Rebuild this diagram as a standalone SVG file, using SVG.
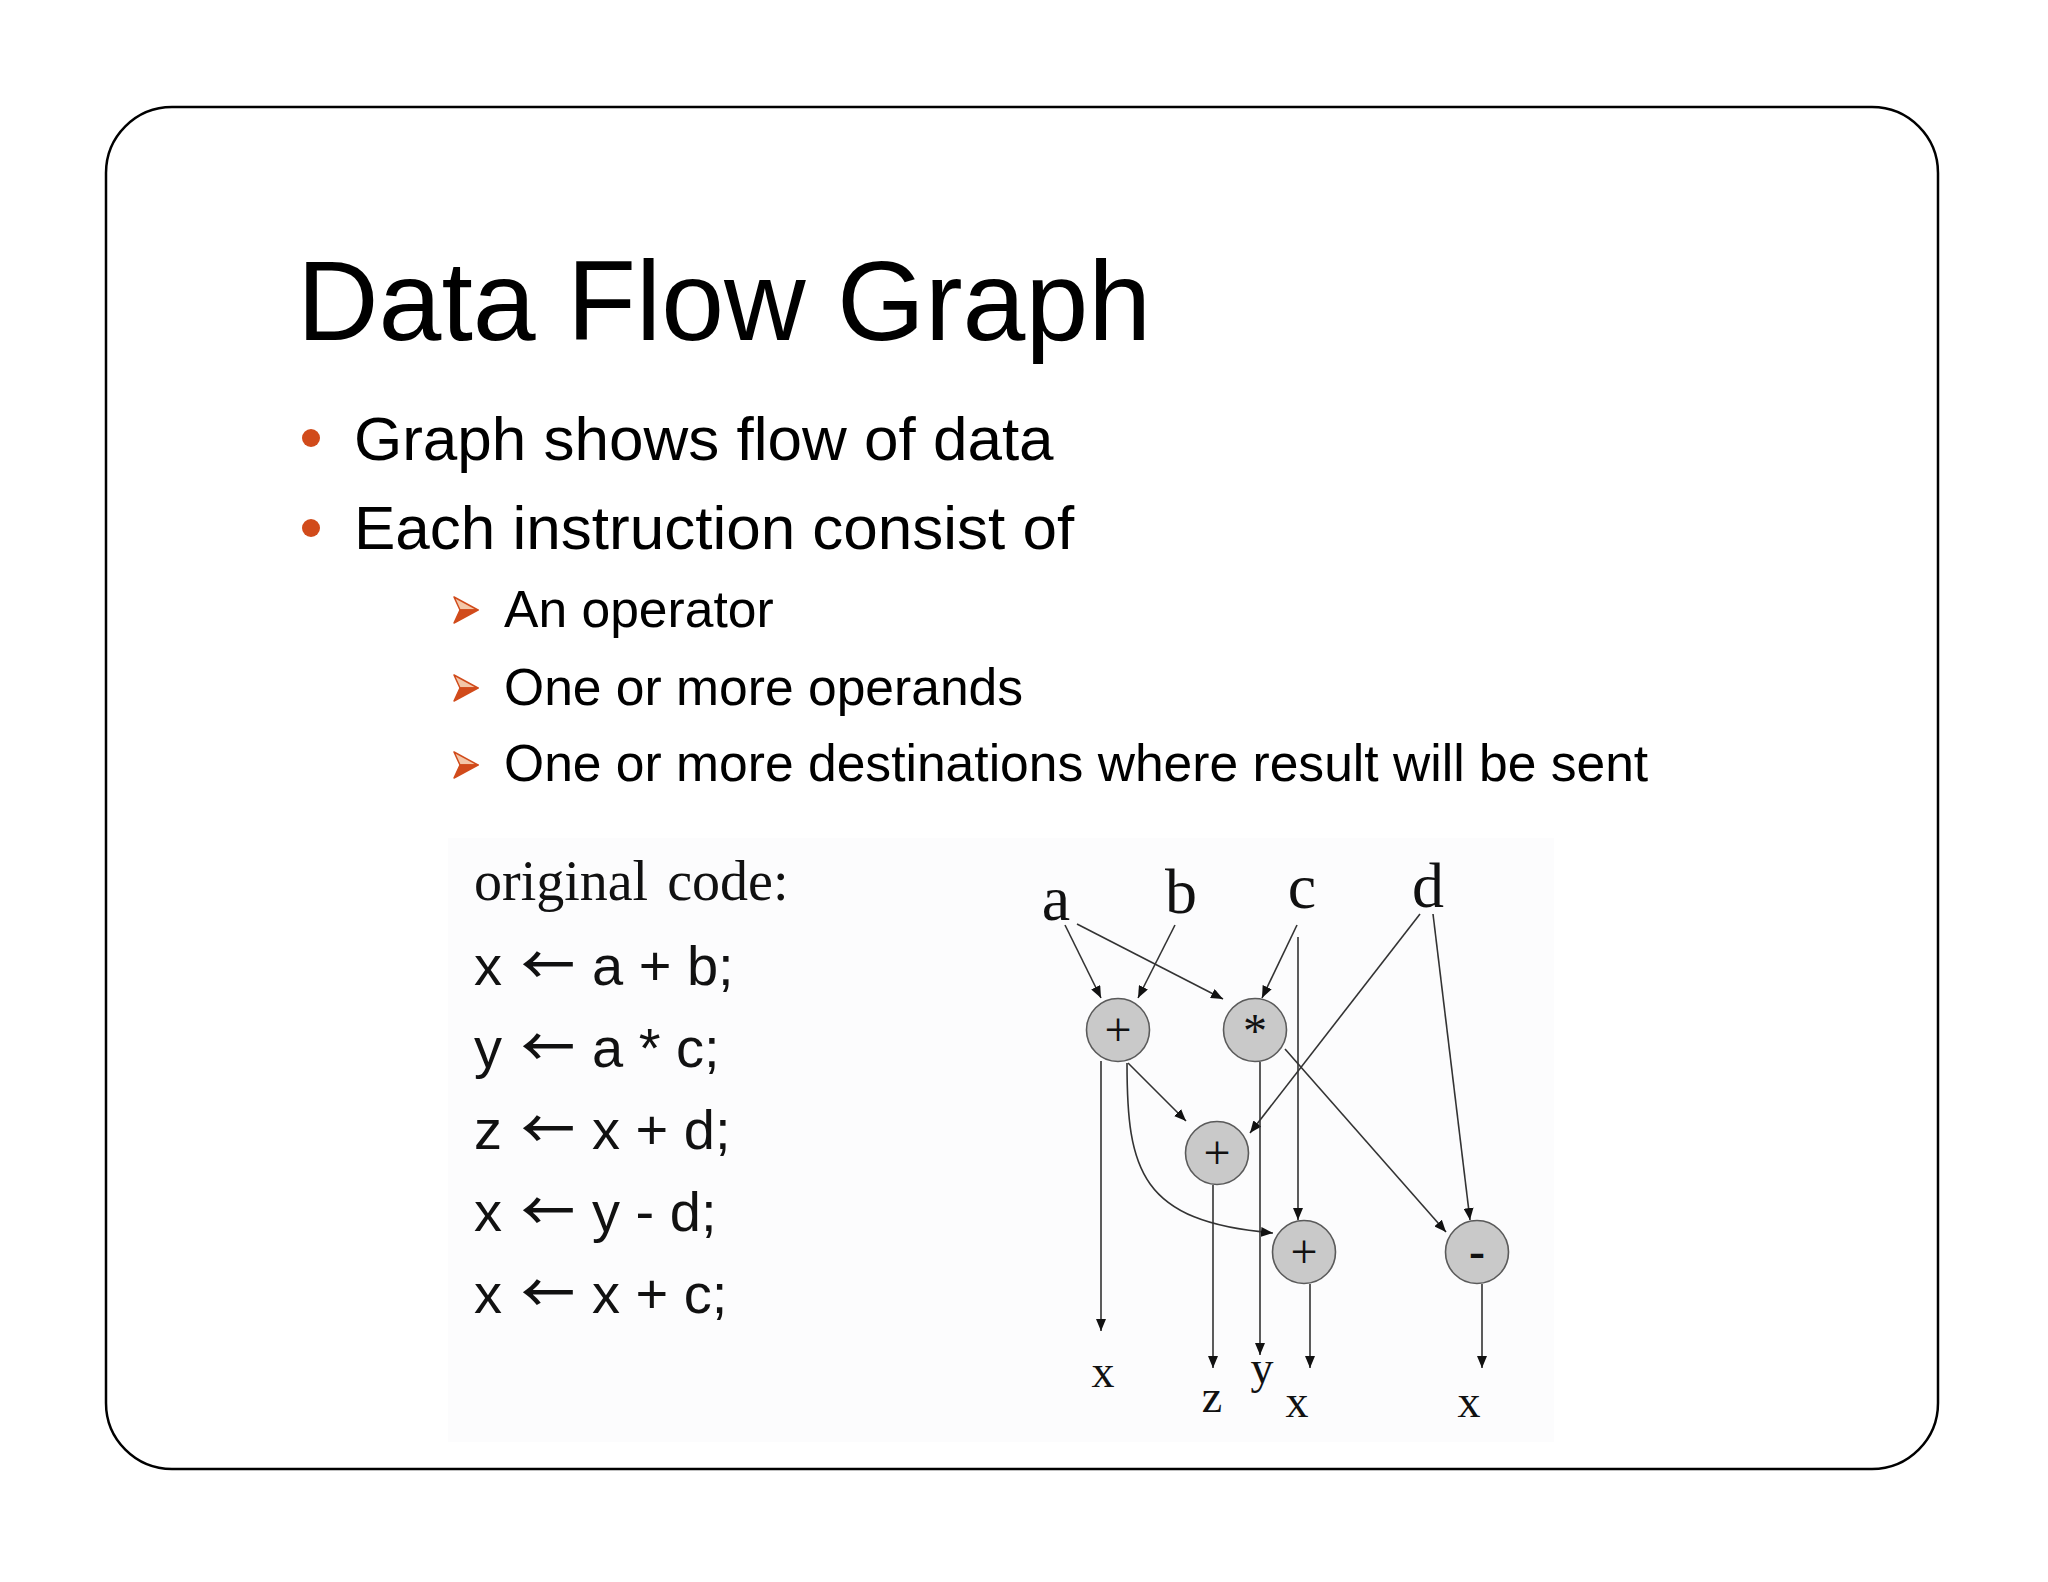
<svg xmlns="http://www.w3.org/2000/svg" width="2048" height="1582" viewBox="0 0 2048 1582">
<style>
.sans{font-family:"Liberation Sans",Arial,sans-serif;fill:#000}
.code{font-family:"Liberation Sans",Arial,sans-serif;fill:#111;font-size:56px}
.arr{font-family:"Noto Sans CJK SC","DejaVu Sans",sans-serif;font-size:54px;font-weight:500}
.serif{font-family:"Liberation Serif","Times New Roman",serif;fill:#111}
.edge{fill:none;stroke:#333;stroke-width:1.6}
.op{fill:#c9c9c9;stroke:#5a5a5a;stroke-width:1.6}
.dot{fill:#d14b1b}
</style>
<defs>
<marker id="ah" viewBox="0 0 12 10" refX="12" refY="5" markerWidth="12" markerHeight="10" markerUnits="userSpaceOnUse" orient="auto">
<path d="M0,0 L12,5 L0,10 Z" fill="#111"/>
</marker>
<g id="chev">
<path d="M0,0 L24,13 L6,13 Z" fill="#f3c7a8" stroke="#d14b1b" stroke-width="1.5" stroke-linejoin="round"/>
<path d="M6,13 L24,13 L0,26 Z" fill="#d14b1b" stroke="#d14b1b" stroke-width="1.5" stroke-linejoin="round"/>
</g>
</defs>
<rect width="2048" height="1582" fill="#fff"/>
<rect x="106" y="107" width="1832" height="1362" rx="66" ry="66" fill="#fff" stroke="#000" stroke-width="2.5"/>
<rect x="448" y="838" width="1106" height="604" fill="#fcfcfd"/>

<g id="title"><text class="sans" x="297" y="340" font-size="113">Data Flow Graph</text></g>
<g id="bullets">
<circle class="dot" cx="311" cy="438" r="9"/>
<text class="sans" x="354" y="460" font-size="62">Graph shows flow of data</text>
<circle class="dot" cx="311" cy="528" r="9"/>
<text class="sans" x="354" y="549" font-size="62">Each instruction consist of</text>
<use href="#chev" x="454" y="597"/>
<text class="sans" x="504" y="627" font-size="51.6">An operator</text>
<use href="#chev" x="454" y="675"/>
<text class="sans" x="504" y="705" font-size="51.6">One or more operands</text>
<use href="#chev" x="454" y="752"/>
<text class="sans" x="504" y="781" font-size="51.6">One or more destinations where result will be sent</text>
</g>

<g id="code">
<text class="serif" x="474" y="900" font-size="56" word-spacing="5">original code:</text>
<text class="code" y="985"><tspan x="474">x</tspan><tspan class="arr" x="521">←</tspan><tspan x="592">a + b;</tspan></text>
<text class="code" y="1067"><tspan x="474">y</tspan><tspan class="arr" x="521">←</tspan><tspan x="592">a * c;</tspan></text>
<text class="code" y="1149"><tspan x="474">z</tspan><tspan class="arr" x="521">←</tspan><tspan x="592">x + d;</tspan></text>
<text class="code" y="1231"><tspan x="474">x</tspan><tspan class="arr" x="521">←</tspan><tspan x="592">y - d;</tspan></text>
<text class="code" y="1313"><tspan x="474">x</tspan><tspan class="arr" x="521">←</tspan><tspan x="592">x + c;</tspan></text>
</g>

<g id="connectors">
<line class="edge" x1="1065" y1="925" x2="1101" y2="998" marker-end="url(#ah)"/>
<line class="edge" x1="1077" y1="924" x2="1223" y2="999" marker-end="url(#ah)"/>
<line class="edge" x1="1175" y1="925" x2="1138" y2="998" marker-end="url(#ah)"/>
<line class="edge" x1="1297" y1="925" x2="1262" y2="998" marker-end="url(#ah)"/>
<line class="edge" x1="1298" y1="937" x2="1298" y2="1220" marker-end="url(#ah)"/>
<line class="edge" x1="1420" y1="914" x2="1250" y2="1133" marker-end="url(#ah)"/>
<line class="edge" x1="1433" y1="914" x2="1470" y2="1220" marker-end="url(#ah)"/>
<line class="edge" x1="1101" y1="1061" x2="1101" y2="1331" marker-end="url(#ah)"/>
<line class="edge" x1="1128" y1="1063" x2="1186" y2="1121" marker-end="url(#ah)"/>
<path class="edge" d="M1127,1063 C1127,1170 1140,1222 1273,1233" marker-end="url(#ah)"/>
<line class="edge" x1="1260" y1="1062" x2="1260" y2="1355" marker-end="url(#ah)"/>
<line class="edge" x1="1285" y1="1049" x2="1446" y2="1232" marker-end="url(#ah)"/>
<line class="edge" x1="1213" y1="1185" x2="1213" y2="1368" marker-end="url(#ah)"/>
<line class="edge" x1="1310" y1="1284" x2="1310" y2="1368" marker-end="url(#ah)"/>
<line class="edge" x1="1482" y1="1284" x2="1482" y2="1368" marker-end="url(#ah)"/>
</g>

<g id="in-a"><text class="serif" x="1056" y="920" font-size="64" text-anchor="middle">a</text></g>
<g id="in-b"><text class="serif" x="1181" y="913" font-size="64" text-anchor="middle">b</text></g>
<g id="in-c"><text class="serif" x="1302" y="908" font-size="64" text-anchor="middle">c</text></g>
<g id="in-d"><text class="serif" x="1428" y="907" font-size="64" text-anchor="middle">d</text></g>

<g id="op-add1"><circle class="op" cx="1118" cy="1030" r="31.5"/><text class="serif" x="1118" y="1046" font-size="48" text-anchor="middle">+</text></g>
<g id="op-mul"><circle class="op" cx="1255" cy="1030" r="31.5"/><text class="serif" x="1255" y="1047" font-size="48" text-anchor="middle">*</text></g>
<g id="op-add2"><circle class="op" cx="1217" cy="1153" r="31.5"/><text class="serif" x="1217" y="1169" font-size="48" text-anchor="middle">+</text></g>
<g id="op-add3"><circle class="op" cx="1304" cy="1252" r="31.5"/><text class="serif" x="1304" y="1268" font-size="48" text-anchor="middle">+</text></g>
<g id="op-sub"><circle class="op" cx="1477" cy="1252" r="31.5"/><text class="serif" x="1477" y="1267" font-size="48" font-weight="bold" text-anchor="middle">-</text></g>

<g id="out-x1"><text class="serif" x="1103" y="1387" font-size="46" text-anchor="middle">x</text></g>
<g id="out-z"><text class="serif" x="1212" y="1412" font-size="46" text-anchor="middle">z</text></g>
<g id="out-y"><text class="serif" x="1262" y="1383" font-size="46" text-anchor="middle">y</text></g>
<g id="out-x2"><text class="serif" x="1297" y="1417" font-size="46" text-anchor="middle">x</text></g>
<g id="out-x3"><text class="serif" x="1469" y="1417" font-size="46" text-anchor="middle">x</text></g>
</svg>
